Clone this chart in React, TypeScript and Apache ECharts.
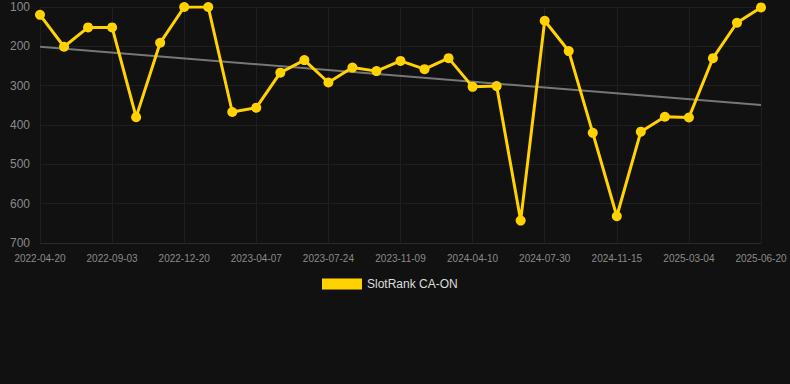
import React, { useEffect, useRef } from "react";
import * as echarts from "echarts";

const categories: string[] = [
  "2022-04-20", "2022-06-05", "2022-07-20", "2022-09-03", "2022-10-09", "2022-11-14",
  "2022-12-20", "2023-01-25", "2023-03-02", "2023-04-07", "2023-05-13", "2023-06-18",
  "2023-07-24", "2023-08-29", "2023-10-04", "2023-11-09", "2023-12-30", "2024-02-19",
  "2024-04-10", "2024-05-17", "2024-06-23", "2024-07-30", "2024-09-04", "2024-10-10",
  "2024-11-15", "2024-12-21", "2025-01-27", "2025-03-04", "2025-04-09", "2025-05-15",
  "2025-06-20",
];

const rankValues: number[] = [
  120, 201, 152, 152, 380, 191, 100, 100, 367, 356,
  267, 235, 292, 254, 263, 237, 258, 230, 303, 301,
  643, 135, 212, 420, 632, 417, 379, 381, 230, 140,
  101,
];

const trendStart = 201;
const trendEnd = 349;

const seriesName = "SlotRank CA-ON";
const yTicks = { min: 100, max: 700, interval: 100 };

export default function App() {
  const ref = useRef<HTMLDivElement>(null);

  useEffect(() => {
    document.body.style.margin = "0";
    if (!ref.current) return;
    const chart = echarts.init(ref.current, null, { renderer: "svg" });
    const font = "'Liberation Sans', Arial, sans-serif";
    chart.setOption({
      animation: false,
      backgroundColor: "#111111",
      textStyle: { fontFamily: font },
      grid: { left: 40, right: 29, top: 7, bottom: 141, containLabel: false },
      legend: {
        top: 278,
        left: 322,
        padding: 0,
        itemWidth: 40,
        itemHeight: 11,
        itemGap: 10,
        textStyle: { color: "#dddddd", fontSize: 12, fontFamily: font },
        data: [{ name: seriesName, icon: "rect" }],
      },
      xAxis: {
        type: "category",
        data: categories,
        boundaryGap: false,
        axisLine: { show: true, lineStyle: { color: "#2a2a2a" } },
        axisTick: { show: false },
        axisLabel: { interval: 2, color: "#8a8a8a", fontSize: 10, margin: 10 },
        splitLine: { show: true, interval: 2, lineStyle: { color: "#1f1f1f" } },
      },
      yAxis: {
        type: "value",
        inverse: true,
        min: yTicks.min,
        max: yTicks.max,
        interval: yTicks.interval,
        axisLine: { show: false },
        axisTick: { show: false },
        axisLabel: { color: "#8a8a8a", fontSize: 12, margin: 10 },
        splitLine: { show: true, lineStyle: { color: "#1f1f1f" } },
      },
      series: [
        {
          name: seriesName,
          type: "line",
          data: rankValues,
          color: "#FFD200",
          lineStyle: { color: "#FFD200", width: 3 },
          itemStyle: { color: "#FFD200" },
          symbol: "circle",
          symbolSize: 10,
          z: 3,
        },
        {
          name: "trend",
          type: "line",
          data: [[0, trendStart], [categories.length - 1, trendEnd]],
          lineStyle: { color: "#777777", width: 2 },
          itemStyle: { color: "#777777" },
          symbol: "none",
          z: 2,
        },
      ],
    });
    return () => chart.dispose();
  }, []);

  return (
    <div
      ref={ref}
      style={{ position: "absolute", left: 0, top: 0, width: 790, height: 384 }}
    />
  );
}
